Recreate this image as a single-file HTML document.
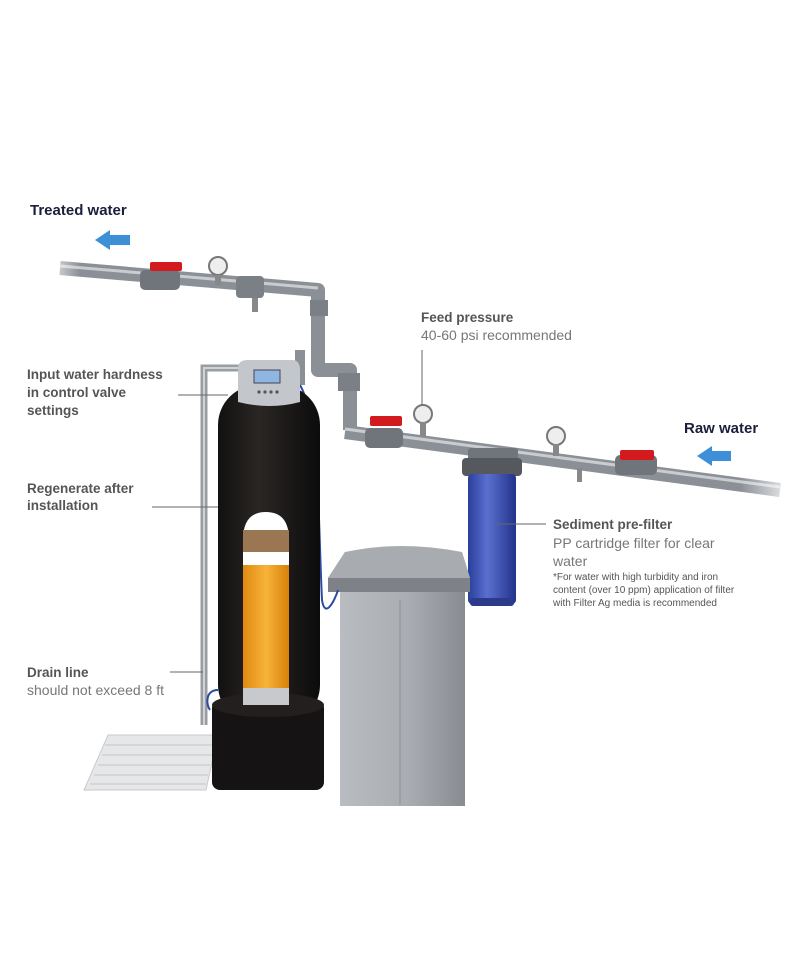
<!DOCTYPE html>
<html><head><meta charset="utf-8"><style>
html,body{margin:0;padding:0;background:#fff}
body{width:800px;height:978px;position:relative;overflow:hidden;font-family:"Liberation Sans",sans-serif}
svg{position:absolute;left:0;top:0}
</style></head><body>
<svg width="800" height="978" viewBox="0 0 800 978" xmlns="http://www.w3.org/2000/svg">
<defs>
<linearGradient id="tank" x1="0" x2="1"><stop offset="0" stop-color="#111"/><stop offset="0.4" stop-color="#2a2624"/><stop offset="1" stop-color="#0c0c0c"/></linearGradient>
<linearGradient id="org" x1="0" x2="1"><stop offset="0" stop-color="#e08a10"/><stop offset="0.5" stop-color="#f7b33a"/><stop offset="1" stop-color="#d98008"/></linearGradient>
<linearGradient id="brine" x1="0" x2="1"><stop offset="0" stop-color="#b9bcc0"/><stop offset="0.55" stop-color="#a9adb2"/><stop offset="1" stop-color="#888c91"/></linearGradient>
<linearGradient id="blue" x1="0" x2="1"><stop offset="0" stop-color="#2a3f9a"/><stop offset="0.4" stop-color="#5a6fd0"/><stop offset="1" stop-color="#23338a"/></linearGradient>
<linearGradient id="fadeL" x1="0" x2="1"><stop offset="0" stop-color="#fff" stop-opacity="1"/><stop offset="1" stop-color="#fff" stop-opacity="0"/></linearGradient>
<linearGradient id="fadeR" x1="0" x2="1"><stop offset="0" stop-color="#fff" stop-opacity="0"/><stop offset="1" stop-color="#fff" stop-opacity="1"/></linearGradient>
</defs>

<!-- drain vertical pipe -->
<path d="M204 725 V368 H240" fill="none" stroke="#9a9ea3" stroke-width="7"/>
<path d="M204 725 V368 H240" fill="none" stroke="#d0d3d6" stroke-width="2"/>

<!-- top treated pipe -->
<path d="M60 268 L318 290 V370 H350 V430" fill="none" stroke="#8b9096" stroke-width="14" stroke-linejoin="round"/>
<path d="M60 266 L318 288" stroke="#c9ccd0" stroke-width="3"/>
<path d="M290 380 H300 V350" fill="none" stroke="#8b9096" stroke-width="10"/>
<!-- right raw pipe -->
<path d="M345 432 L780 490" stroke="#8b9096" stroke-width="14"/>
<path d="M345 429 L780 487" stroke="#c9ccd0" stroke-width="3"/>
<rect x="40" y="255" width="40" height="30" fill="url(#fadeL)"/>
<rect x="740" y="470" width="60" height="35" fill="url(#fadeR)"/>

<!-- fittings top -->
<rect x="140" y="270" width="40" height="20" rx="5" fill="#6f757b"/>
<rect x="150" y="262" width="32" height="9" rx="2" fill="#d31a1f"/>
<rect x="236" y="276" width="28" height="22" rx="4" fill="#7a8086"/>
<circle cx="218" cy="266" r="9" fill="#eee" stroke="#777" stroke-width="2"/>
<rect x="215" y="275" width="6" height="10" fill="#888"/>
<rect x="252" y="298" width="6" height="14" fill="#888"/>
<rect x="310" y="300" width="18" height="16" fill="#7a8086"/>
<rect x="338" y="373" width="22" height="18" fill="#7a8086"/>

<!-- right fittings -->
<rect x="365" y="428" width="38" height="20" rx="5" fill="#6f757b"/>
<rect x="370" y="416" width="32" height="10" rx="2" fill="#d31a1f"/>
<circle cx="423" cy="414" r="9" fill="#eee" stroke="#777" stroke-width="2"/>
<rect x="420" y="422" width="6" height="14" fill="#888"/>
<circle cx="556" cy="436" r="9" fill="#eee" stroke="#777" stroke-width="2"/>
<rect x="553" y="444" width="6" height="12" fill="#888"/>
<rect x="577" y="468" width="5" height="14" fill="#888"/>
<rect x="615" y="455" width="42" height="20" rx="5" fill="#6f757b"/>
<rect x="620" y="450" width="34" height="10" rx="2" fill="#d31a1f"/>

<!-- sediment filter -->
<rect x="468" y="448" width="50" height="16" rx="3" fill="#6f757b"/>
<rect x="462" y="458" width="60" height="18" rx="4" fill="#55595e"/>
<rect x="468" y="474" width="48" height="130" rx="4" fill="url(#blue)"/>
<rect x="470" y="598" width="44" height="8" rx="3" fill="#2b3a8a"/>

<!-- brine tank -->
<path d="M328 578 L345 552 H462 L470 578 Z" fill="#9a9ea3"/>
<path d="M345 552 Q400 540 462 552 L470 578 H328 Z" fill="#a8acb1"/>
<rect x="328" y="578" width="142" height="14" fill="#7e8288"/>
<rect x="340" y="592" width="125" height="214" fill="url(#brine)"/>
<line x1="400" y1="600" x2="400" y2="805" stroke="#8e9297" stroke-width="1"/>

<!-- blue tube -->
<path d="M300 385 C320 420 318 520 322 600 C325 620 335 600 338 590" fill="none" stroke="#2a4aa0" stroke-width="2"/>
<path d="M218 690 C205 690 206 705 210 710" fill="none" stroke="#2a4aa0" stroke-width="2"/>

<!-- drain grate -->
<path d="M108 735 H218 L206 790 H84 Z" fill="#e6e7e9" stroke="#c8cacd"/>
<g stroke="#c2c4c7" stroke-width="1">
<line x1="105" y1="745" x2="214" y2="745"/><line x1="102" y1="755" x2="212" y2="755"/><line x1="98" y1="765" x2="210" y2="765"/><line x1="94" y1="775" x2="208" y2="775"/><line x1="90" y1="784" x2="206" y2="784"/>
</g>

<!-- softener tank -->
<rect x="218" y="385" width="102" height="340" rx="40" fill="url(#tank)"/>
<rect x="212" y="700" width="112" height="90" rx="8" fill="#151313"/>
<ellipse cx="268" cy="705" rx="56" ry="12" fill="#221f1e"/>
<!-- window -->
<path d="M243 540 Q243 512 266 512 Q289 512 289 540 V705 H243 Z" fill="#fff"/>
<rect x="243" y="530" width="46" height="22" fill="#9a7652"/>
<rect x="243" y="565" width="46" height="125" fill="url(#org)"/>
<rect x="243" y="688" width="46" height="17" fill="#c7c9cc"/>
<!-- control head -->
<path d="M238 368 Q238 360 248 360 H292 Q300 360 300 370 V402 Q270 410 238 402 Z" fill="#c3c6ca"/>
<rect x="254" y="370" width="26" height="13" fill="#8fb6e0" stroke="#445" stroke-width="1"/>
<g fill="#555"><circle cx="259" cy="392" r="1.6"/><circle cx="265" cy="392" r="1.6"/><circle cx="271" cy="392" r="1.6"/><circle cx="277" cy="392" r="1.6"/></g>

<!-- arrows -->
<path d="M95 240 L110 230 V235 H130 V245 H110 V250 Z" fill="#3d8fd8"/>
<path d="M697 456 L712 446 V451 H731 V461 H712 V466 Z" fill="#3d8fd8"/>

<!-- leader lines -->
<g stroke="#666" stroke-width="1">
<line x1="178" y1="395" x2="228" y2="395"/>
<line x1="152" y1="507" x2="218" y2="507"/>
<line x1="170" y1="672" x2="203" y2="672"/>
<line x1="422" y1="350" x2="422" y2="405"/>
<line x1="497" y1="524" x2="546" y2="524"/>
</g>

<!-- text -->
<g font-family="Liberation Sans, sans-serif">
<text x="30" y="215" font-size="15" font-weight="bold" fill="#1b1f3b">Treated water</text>
<text x="684" y="433" font-size="15" font-weight="bold" fill="#1b1f3b">Raw water</text>
<g font-size="13.5" font-weight="bold" fill="#555">
<text x="27" y="379">Input water hardness</text>
<text x="27" y="397">in control valve</text>
<text x="27" y="415">settings</text>
<text x="27" y="493">Regenerate after</text>
<text x="27" y="510">installation</text>
<text x="27" y="677">Drain line</text>
<text x="421" y="322">Feed pressure</text>
<text x="553" y="529">Sediment pre-filter</text>
</g>
<g font-size="14" fill="#777">
<text x="27" y="695">should not exceed 8 ft</text>
<text x="421" y="340">40-60 psi recommended</text>
<text x="553" y="548">PP cartridge filter for clear</text>
<text x="553" y="566">water</text>
</g>
<g font-size="10" fill="#555">
<text x="553" y="580">*For water with high turbidity and iron</text>
<text x="553" y="593">content (over 10 ppm) application of filter</text>
<text x="553" y="606">with Filter Ag media is recommended</text>
</g>
</g>
</svg>
</body></html>
